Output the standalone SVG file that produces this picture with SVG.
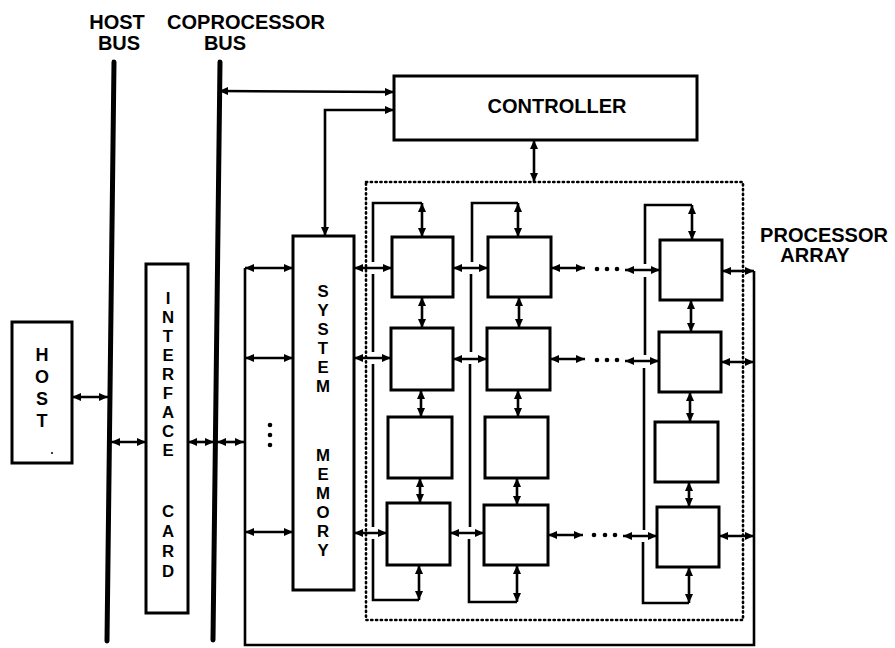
<svg xmlns="http://www.w3.org/2000/svg" width="895" height="648" viewBox="0 0 895 648">
<style>
  .box { fill: #fff; stroke: #000; stroke-width: 3; }
  .bus { stroke: #000; stroke-width: 5; stroke-linecap: round; fill: none; }
  .ln { stroke: #000; stroke-width: 2.6; fill: none; }
  .dbl { stroke: #000; stroke-width: 2.6; fill: none; marker-start: url(#ah); marker-end: url(#ah); }
  .dotted { stroke: #000; stroke-width: 2.6; fill: none; stroke-dasharray: 1.2 3.6; stroke-linecap: round; }
  .lbl { font-family: "Liberation Sans", Arial, sans-serif; font-weight: bold; font-size: 20px; fill: #000; }
  .vt { font-family: "Liberation Sans", Arial, sans-serif; font-weight: bold; font-size: 16.8px; fill: #000; text-anchor: middle; }
  .dot { fill: #000; }
</style>
<defs>
  <marker id="ah" markerUnits="userSpaceOnUse" markerWidth="9" markerHeight="8" refX="9" refY="4" orient="auto-start-reverse">
    <path d="M0,0 L9,4 L0,8 z" fill="#000"/>
  </marker>
</defs>

<g id="host-bus">
  <line class="bus" x1="114" y1="62" x2="107" y2="641"/>
  <text class="lbl" x="117" y="29" text-anchor="middle">HOST</text>
  <text class="lbl" x="119" y="50" text-anchor="middle">BUS</text>
</g>
<g id="coprocessor-bus">
  <line class="bus" x1="220" y1="62" x2="213" y2="640"/>
  <text class="lbl" x="246" y="29" text-anchor="middle">COPROCESSOR</text>
  <text class="lbl" x="225" y="50" text-anchor="middle">BUS</text>
</g>

<g id="host">
  <rect class="box" x="12" y="322" width="60" height="141"/>
  <text class="vt" style="font-size:18px"><tspan x="42" y="361">H</tspan><tspan x="42" y="383">O</tspan><tspan x="42" y="405">S</tspan><tspan x="42" y="427">T</tspan></text>
  <circle class="dot" cx="52" cy="453" r="1"/>
</g>

<g id="interface-card">
  <rect class="box" x="146" y="264" width="42" height="349"/>
  <text class="vt"><tspan x="168" y="304">I</tspan><tspan x="168" y="323">N</tspan><tspan x="168" y="342">T</tspan><tspan x="168" y="361">E</tspan><tspan x="168" y="380">R</tspan><tspan x="168" y="399">F</tspan><tspan x="168" y="418">A</tspan><tspan x="168" y="437">C</tspan><tspan x="168" y="456">E</tspan><tspan x="168" y="517">C</tspan><tspan x="168" y="537">A</tspan><tspan x="168" y="557">R</tspan><tspan x="168" y="577">D</tspan></text>
</g>

<g id="system-memory">
  <rect class="box" x="293" y="236" width="61" height="354"/>
  <text class="vt"><tspan x="323" y="297">S</tspan><tspan x="323" y="316">Y</tspan><tspan x="323" y="335">S</tspan><tspan x="323" y="354">T</tspan><tspan x="323" y="373">E</tspan><tspan x="323" y="392">M</tspan><tspan x="323" y="461">M</tspan><tspan x="323" y="480">E</tspan><tspan x="323" y="499">M</tspan><tspan x="323" y="518">O</tspan><tspan x="323" y="537">R</tspan><tspan x="323" y="556">Y</tspan></text>
</g>

<g id="controller">
  <rect class="box" x="394" y="76" width="303" height="64"/>
  <text class="lbl" x="557" y="113" text-anchor="middle">CONTROLLER</text>
</g>

<g id="processor-array">
  <rect class="dotted" x="366" y="182" width="377" height="438"/>
  <text class="lbl" x="824" y="242" text-anchor="middle">PROCESSOR</text>
  <text class="lbl" x="815" y="262" text-anchor="middle">ARRAY</text>
</g>

<g id="pe-c1r1"><rect class="box" x="392" y="237" width="61" height="60"/></g>
<g id="pe-c1r2"><rect class="box" x="391" y="328" width="62" height="62"/></g>
<g id="pe-c1r3"><rect class="box" x="388" y="417" width="64" height="61"/></g>
<g id="pe-c1r4"><rect class="box" x="387" y="503" width="63" height="62"/></g>
<g id="pe-c2r1"><rect class="box" x="488" y="237" width="63" height="60"/></g>
<g id="pe-c2r2"><rect class="box" x="487" y="328" width="63" height="62"/></g>
<g id="pe-c2r3"><rect class="box" x="485" y="417" width="63" height="61"/></g>
<g id="pe-c2r4"><rect class="box" x="484" y="505" width="64" height="60"/></g>
<g id="pe-c3r1"><rect class="box" x="660" y="240" width="62" height="60"/></g>
<g id="pe-c3r2"><rect class="box" x="659" y="332" width="62" height="60"/></g>
<g id="pe-c3r3"><rect class="box" x="655" y="422" width="63" height="60"/></g>
<g id="pe-c3r4"><rect class="box" x="657" y="507" width="62" height="60"/></g>

<g id="connectors">
  <path class="dbl" d="M72,397 L108,397"/>
  <path class="dbl" d="M111,442 L146,442"/>
  <path class="dbl" d="M188,442 L214,442"/>
  <path class="dbl" d="M217,442 L244,442"/>
  <path class="dbl" d="M219,91 L394,92"/>
  <path class="dbl" d="M394,110 L325,110 L325,236"/>
  <path class="dbl" d="M534,140 L534,182"/>
  <path class="ln" d="M245,268 L245,645 L754,645 L754,271"/>
  <path class="dbl" d="M245,268 L293,268"/>
  <path class="dbl" d="M245,358 L293,358"/>
  <path class="dbl" d="M245,532 L293,532"/>
  <circle class="dot" cx="270" cy="425" r="2.3"/>
  <circle class="dot" cx="270" cy="435" r="2.3"/>
  <circle class="dot" cx="270" cy="445" r="2.3"/>
  <path class="dbl" d="M354,268 L392,268"/>
  <path class="dbl" d="M354,358 L391,358"/>
  <path class="dbl" d="M354,533 L387,533"/>
  <path class="dbl" d="M453,268 L488,268"/>
  <path class="dbl" d="M453,359 L487,359"/>
  <path class="dbl" d="M450,533 L484,533"/>
  <path class="dbl" d="M551,268 L585,268"/>
  <path class="dbl" d="M550,359 L585,359"/>
  <path class="dbl" d="M548,535 L583,535"/>
  <g class="dot">
    <circle cx="597" cy="269" r="2.3"/><circle cx="607" cy="269" r="2.3"/><circle cx="617" cy="269" r="2.3"/>
    <circle cx="597" cy="360" r="2.3"/><circle cx="607" cy="360" r="2.3"/><circle cx="617" cy="360" r="2.3"/>
    <circle cx="594" cy="535" r="2.3"/><circle cx="605" cy="535" r="2.3"/><circle cx="615" cy="535" r="2.3"/>
  </g>
  <path class="dbl" d="M625,270 L660,270"/>
  <path class="dbl" d="M625,361 L659,361"/>
  <path class="dbl" d="M623,536 L657,536"/>
  <path class="dbl" d="M722,271 L754,271"/>
  <path class="dbl" d="M721,362 L754,362"/>
  <path class="dbl" d="M719,536 L754,536"/>
  <path class="dbl" d="M422,203 L422,237"/>
  <path class="dbl" d="M422,297 L422,328"/>
  <path class="dbl" d="M421,390 L421,417"/>
  <path class="dbl" d="M420,478 L420,503"/>
  <path class="dbl" d="M419,565 L419,600"/>
  <path class="ln" d="M422,203 H373 V262"/>
  <path class="ln" d="M373,274 V352"/>
  <path class="ln" d="M373,364 V527"/>
  <path class="ln" d="M373,539 V600 H419"/>
  <path class="dbl" d="M518,203 L518,237"/>
  <path class="dbl" d="M519,297 L519,328"/>
  <path class="dbl" d="M518,390 L518,417"/>
  <path class="dbl" d="M517,478 L517,505"/>
  <path class="dbl" d="M517,565 L517,602"/>
  <path class="ln" d="M518,203 H472 V262"/>
  <path class="ln" d="M471,274 V352"/>
  <path class="ln" d="M470,364 V527"/>
  <path class="ln" d="M469,539 V602 H517"/>
  <path class="dbl" d="M692,205 L692,240"/>
  <path class="dbl" d="M691,300 L691,332"/>
  <path class="dbl" d="M690,392 L690,422"/>
  <path class="dbl" d="M689,482 L689,507"/>
  <path class="dbl" d="M689,567 L689,603"/>
  <path class="ln" d="M692,205 H645 V264"/>
  <path class="ln" d="M645,277 V355"/>
  <path class="ln" d="M644,368 V530"/>
  <path class="ln" d="M643,542 V603 H689"/>
</g>
</svg>
